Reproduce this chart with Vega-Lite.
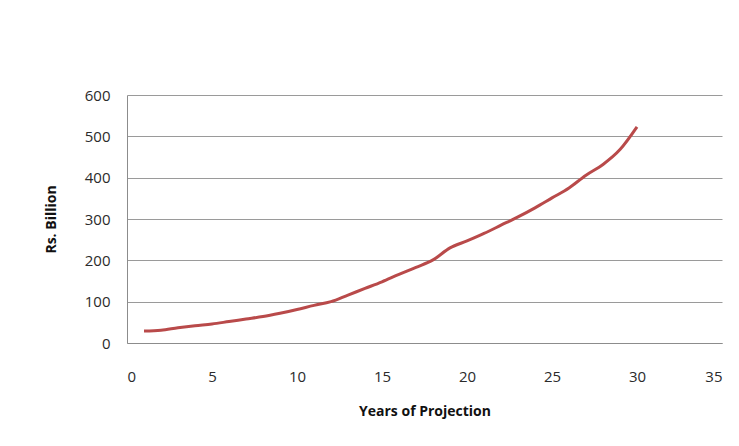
{
  "$schema": "https://vega.github.io/schema/vega-lite/v6.json",
  "autosize": "none",
  "width": 595,
  "height": 248,
  "padding": {"left": 127, "top": 95, "right": 17, "bottom": 103},
  "background": "white",
  "config": {
    "view": {"stroke": null},
    "font": "Open Sans",
    "axis": {
      "labelFont": "Open Sans",
      "titleFont": "Open Sans",
      "labelColor": "#2b2b2b",
      "titleColor": "#111111",
      "labelFontSize": 15,
      "titleFontSize": 14,
      "titleFontWeight": "bold",
      "domainColor": "#8c8c8c",
      "gridColor": "#9a9a9a",
      "gridOpacity": 1,
      "ticks": false
    }
  },
  "data": {
    "values": [
      {"year": 1, "value": 29},
      {"year": 2, "value": 31},
      {"year": 3, "value": 37},
      {"year": 4, "value": 42},
      {"year": 5, "value": 46},
      {"year": 6, "value": 52},
      {"year": 7, "value": 58},
      {"year": 8, "value": 64},
      {"year": 9, "value": 72},
      {"year": 10, "value": 81},
      {"year": 11, "value": 91},
      {"year": 12, "value": 100},
      {"year": 13, "value": 116},
      {"year": 14, "value": 132},
      {"year": 15, "value": 148},
      {"year": 16, "value": 166},
      {"year": 17, "value": 183},
      {"year": 18, "value": 201},
      {"year": 19, "value": 230},
      {"year": 20, "value": 247},
      {"year": 21, "value": 265},
      {"year": 22, "value": 285},
      {"year": 23, "value": 305},
      {"year": 24, "value": 327},
      {"year": 25, "value": 351},
      {"year": 26, "value": 375},
      {"year": 27, "value": 406},
      {"year": 28, "value": 432},
      {"year": 29, "value": 468},
      {"year": 30, "value": 523}
    ]
  },
  "mark": {"type": "line", "color": "#b94a4a", "strokeWidth": 3, "interpolate": "monotone"},
  "encoding": {
    "x": {
      "field": "year",
      "type": "quantitative",
      "scale": {"domain": [0, 35], "nice": false, "zero": true},
      "axis": {
        "title": "Years of Projection",
        "values": [0, 5, 10, 15, 20, 25, 30, 35],
        "grid": false,
        "labelPadding": 26,
        "titlePadding": 20
      }
    },
    "y": {
      "field": "value",
      "type": "quantitative",
      "scale": {"domain": [0, 600], "nice": false},
      "axis": {
        "title": "Rs. Billion",
        "values": [0, 100, 200, 300, 400, 500, 600],
        "grid": true,
        "labelPadding": 17,
        "titlePadding": 26
      }
    }
  }
}
